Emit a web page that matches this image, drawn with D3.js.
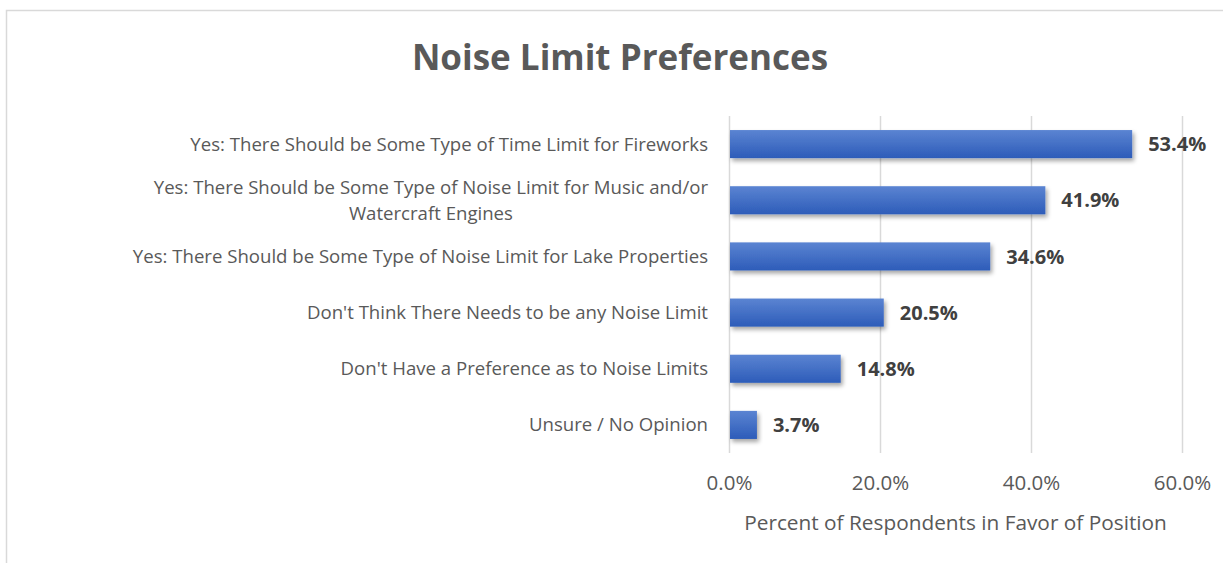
<!DOCTYPE html>
<html>
<head>
<meta charset="utf-8">
<script src="https://cdn.jsdelivr.net/npm/d3@7"></script>
<style>
  body { margin: 0; background: #fff; }
  text { font-family: "Open Sans", sans-serif; }
</style>
</head>
<body>
<svg id="chart"></svg>
<script>
const CATEGORIES = [
  "Yes: There Should be Some Type of Time Limit for Fireworks",
  "Yes: There Should be Some Type of Noise Limit for Music and/or\nWatercraft Engines",
  "Yes: There Should be Some Type of Noise Limit for Lake Properties",
  "Don't Think There Needs to be any Noise Limit",
  "Don't Have a Preference as to Noise Limits",
  "Unsure / No Opinion",
];
const VALUES = [0.534, 0.419, 0.346, 0.205, 0.148, 0.037];
const X_TICKS = [0, 0.2, 0.4, 0.6];

const TITLE = "Noise Limit Preferences";
const X_TITLE = "Percent of Respondents in Favor of Position";

const config = {
  width: 1223,
  height: 563,
  margin: { top: 116, right: 41, bottom: 110, left: 729 },
};

const data = CATEGORIES.map((c, i) => ({ label: c, value: VALUES[i] }));

const svg = d3
  .select("#chart")
  .attr("width", config.width)
  .attr("height", config.height);

const innerW = config.width - config.margin.left - config.margin.right;
const innerH = config.height - config.margin.top - config.margin.bottom;

// Frame around the chart area (runs off the right and bottom edges)
svg
  .append("rect")
  .attr("x", 6.5)
  .attr("y", 10.5)
  .attr("width", 1300)
  .attr("height", 600)
  .attr("fill", "none")
  .attr("stroke", "#d9d9d9")
  .attr("stroke-width", 1.5);

const defs = svg.append("defs");
const grad = defs
  .append("linearGradient")
  .attr("id", "barGrad")
  .attr("x1", 0).attr("y1", 0).attr("x2", 0).attr("y2", 1);
grad.append("stop").attr("offset", "0%").attr("stop-color", "#5b84d2");
grad.append("stop").attr("offset", "100%").attr("stop-color", "#2d5cb9");

const shadow = defs.append("filter").attr("id", "barShadow")
  .attr("x", "-10%").attr("y", "-30%").attr("width", "130%").attr("height", "180%");
shadow
  .append("feDropShadow")
  .attr("dx", 2)
  .attr("dy", 3)
  .attr("stdDeviation", 2)
  .attr("flood-color", "#000")
  .attr("flood-opacity", 0.35);

const chart = svg
  .append("g")
  .attr("transform", `translate(${config.margin.left}, ${config.margin.top})`);

// Scales
const xScale = d3.scaleLinear().domain([0, 0.6]).range([0, innerW]);
const yScale = d3
  .scaleBand()
  .domain(CATEGORIES)
  .range([0, innerH])
  .paddingInner(0.5)
  .paddingOuter(0.25);

// Gridlines
chart
  .selectAll(".grid")
  .data(X_TICKS)
  .join("line")
  .attr("class", "grid")
  .attr("x1", (d) => Math.round(xScale(d)) + 0.5)
  .attr("x2", (d) => Math.round(xScale(d)) + 0.5)
  .attr("y1", 0)
  .attr("y2", innerH)
  .attr("stroke", "#d9d9d9")
  .attr("stroke-width", 1.5);

// Bars
chart
  .selectAll(".bar")
  .data(data)
  .join("rect")
  .attr("class", "bar")
  .attr("x", xScale(0) + 1)
  .attr("y", (d) => yScale(d.label))
  .attr("width", (d) => xScale(d.value) - xScale(0) - 1)
  .attr("height", yScale.bandwidth())
  .attr("fill", "url(#barGrad)")
  .attr("filter", "url(#barShadow)");

// Value labels
chart
  .selectAll(".value")
  .data(data)
  .join("text")
  .attr("class", "value")
  .attr("x", (d) => xScale(d.value) + 16)
  .attr("y", (d) => yScale(d.label) + yScale.bandwidth() / 2)
  .attr("dy", "0.36em")
  .attr("fill", "#404040")
  .style("font-size", "20px")
  .style("font-weight", "bold")
  .text((d) => (d.value * 100).toFixed(1) + "%");

// Category labels (right-aligned block, multi-line centred)
const labelRight = -21;
const lineH = 26;
chart
  .selectAll(".cat")
  .data(data)
  .join("text")
  .attr("class", "cat")
  .attr("fill", "#595959")
  .style("font-size", "18.6px")
  .each(function (d) {
    const t = d3.select(this);
    const lines = d.label.split("\n");
    const cy = yScale(d.label) + yScale.bandwidth() / 2;
    const y0 = cy - ((lines.length - 1) * lineH) / 2;
    const spans = lines.map((ln, i) =>
      t.append("tspan").attr("y", y0 + i * lineH).attr("dy", "0.35em").text(ln)
    );
    const widths = spans.map((s) => s.node().getComputedTextLength());
    const maxW = d3.max(widths);
    const centre = labelRight - maxW / 2;
    spans.forEach((s) => s.attr("x", centre).attr("text-anchor", "middle"));
  });

// X axis tick labels
const xAxis = d3
  .axisBottom(xScale)
  .tickValues(X_TICKS)
  .tickSize(0)
  .tickPadding(22)
  .tickFormat((d) => (d * 100).toFixed(1) + "%");

const xAxisG = chart
  .append("g")
  .attr("class", "axis x-axis")
  .attr("transform", `translate(0, ${innerH})`)
  .call(xAxis)
  .call((g) => g.select(".domain").remove());
xAxisG
  .selectAll("text")
  .attr("fill", "#595959")
  .style("font-size", "20.5px")
  .style("font-family", "'Open Sans', sans-serif");

// Axis title
chart
  .append("text")
  .attr("x", innerW / 2)
  .attr("y", innerH + 70)
  .attr("text-anchor", "middle")
  .attr("dy", "0.35em")
  .attr("fill", "#595959")
  .style("font-size", "20.8px")
  .text(X_TITLE);

// Chart title
svg
  .append("text")
  .attr("x", 620)
  .attr("y", 58)
  .attr("text-anchor", "middle")
  .attr("dy", "0.35em")
  .attr("fill", "#595959")
  .style("font-size", "35px")
  .style("font-weight", "bold")
  .text(TITLE);
</script>
</body>
</html>
